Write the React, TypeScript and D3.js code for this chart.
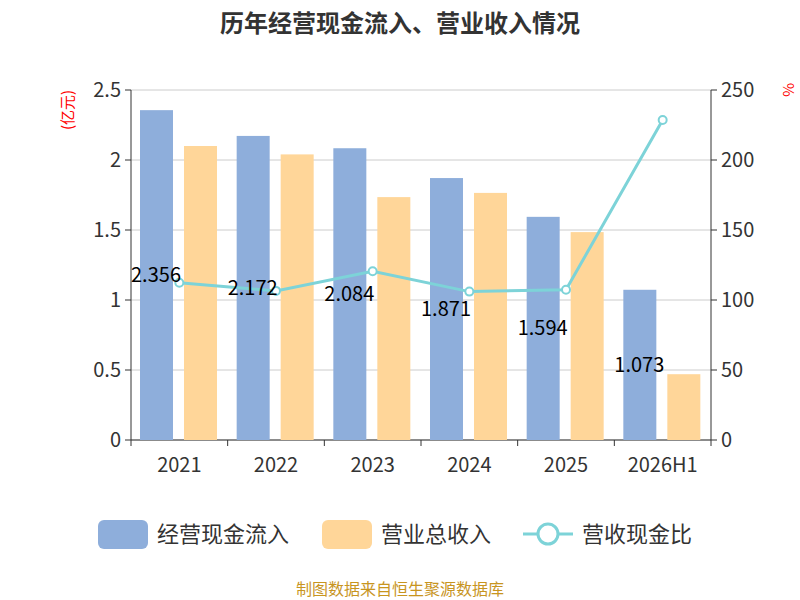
import React from "react";
import * as d3 from "d3";

const categories = ["2021", "2022", "2023", "2024", "2025", "2026H1"];
const cashIn = [2.356, 2.172, 2.084, 1.871, 1.594, 1.073];
const revenue = [2.1, 2.04, 1.735, 1.765, 1.485, 0.47];
const ratio = [112.3, 106.5, 120.5, 106.0, 107.3, 228.6];
const leftTicks = [0, 0.5, 1, 1.5, 2, 2.5];
const rightTicks = [0, 50, 100, 150, 200, 250];

export default function App() {
  const L = 131, R = 711, T = 90, B = 440;
  const x = d3.scaleBand().domain(categories).range([L, R]);
  const y = d3.scaleLinear().domain([0, 2.5]).range([B, T]);
  const y2 = d3.scaleLinear().domain([0, 250]).range([B, T]);
  const bw = x.bandwidth();
  const line = d3.line<number>().x((_, i) => x(categories[i])! + bw / 2).y((d) => y2(d));
  const font = "'Noto Sans CJK SC', 'Noto Sans', sans-serif";
  return (
    <svg width={800} height={600} style={{ position: "absolute", left: 0, top: 0 }} fontFamily={font}>
      <text x={400} y={32} textAnchor="middle" fontSize={24} fontWeight="bold" fill="#333">历年经营现金流入、营业收入情况</text>
      {leftTicks.map((t) => (
        <g key={t}>
          <line x1={L} x2={R} y1={y(t)} y2={y(t)} stroke="#ccc" />
          <line x1={L - 6} x2={L} y1={y(t)} y2={y(t)} stroke="#333" />
          <text x={L - 10} y={y(t) + 7} textAnchor="end" fontSize={20} fill="#333">{t}</text>
        </g>
      ))}
      {rightTicks.map((t) => (
        <g key={t}>
          <line x1={R} x2={R + 6} y1={y2(t)} y2={y2(t)} stroke="#333" />
          <text x={R + 10} y={y2(t) + 7} textAnchor="start" fontSize={20} fill="#333">{t}</text>
        </g>
      ))}
      <line x1={L} x2={L} y1={T} y2={B} stroke="#333" />
      <line x1={R} x2={R} y1={T} y2={B} stroke="#333" />
      <line x1={L} x2={R} y1={B} y2={B} stroke="#333" />
      {categories.map((c, i) => (
        <g key={c}>
          <line x1={x(c)!} x2={x(c)!} y1={B} y2={B + 6} stroke="#333" />
          <text x={x(c)! + bw / 2} y={B + 32} textAnchor="middle" fontSize={20} fill="#333">{c}</text>
          <rect x={x(c)! + 9} y={y(cashIn[i])} width={33} height={B - y(cashIn[i])} fill="#8eaedb" />
          <rect x={x(c)! + 53} y={y(revenue[i])} width={33} height={B - y(revenue[i])} fill="#ffd699" />
        </g>
      ))}
      <line x1={R} x2={R} y1={B} y2={B + 6} stroke="#333" />
      <path d={line(ratio)!} fill="none" stroke="#7dd3d8" strokeWidth={3} />
      {ratio.map((r, i) => (
        <circle key={i} cx={x(categories[i])! + bw / 2} cy={y2(r)} r={4} fill="#fff" stroke="#7dd3d8" strokeWidth={2} />
      ))}
      {cashIn.map((v, i) => (
        <text key={i} x={x(categories[i])! + 25} y={(y(v) + B) / 2 + 7} textAnchor="middle" fontSize={20} fill="#000">{v.toFixed(3)}</text>
      ))}
      <text transform="translate(73,110) rotate(-90)" textAnchor="middle" fontSize={15} fill="red">(亿元)</text>
      <text transform="translate(783,90) rotate(90)" textAnchor="middle" fontSize={15} fill="red">%</text>
      <rect x={98} y={520} width={50} height={29} rx={6} fill="#8eaedb" />
      <text x={157} y={542} fontSize={22} fill="#333">经营现金流入</text>
      <rect x={322} y={520} width={50} height={29} rx={6} fill="#ffd699" />
      <text x={381} y={542} fontSize={22} fill="#333">营业总收入</text>
      <line x1={523} x2={573} y1={534} y2={534} stroke="#7dd3d8" strokeWidth={3} />
      <circle cx={548} cy={534} r={10} fill="#fff" stroke="#7dd3d8" strokeWidth={3} />
      <text x={582} y={542} fontSize={22} fill="#333">营收现金比</text>
      <text x={400} y={595} textAnchor="middle" fontSize={16} fill="#c8951f">制图数据来自恒生聚源数据库</text>
    </svg>
  );
}
